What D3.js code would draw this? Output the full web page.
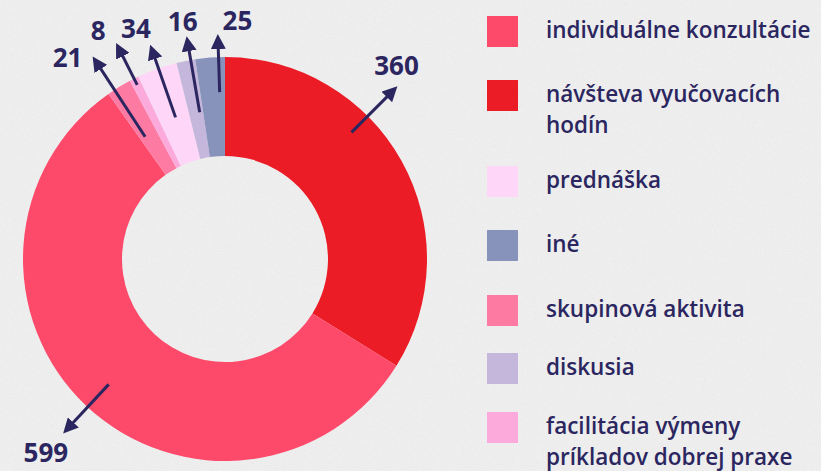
<!DOCTYPE html>
<html>
<head>
<meta charset="utf-8">
<script src="https://cdn.jsdelivr.net/npm/d3@7"></script>
<style>
  html, body { margin: 0; padding: 0; background: #ececec; }
  svg { display: block; }
</style>
</head>
<body>
<svg id="chart" width="821" height="471"></svg>
<script>
// ---- data (clockwise from 12 o'clock) ----
const sliceCategories = ["návšteva vyučovacích hodín", "individuálne konzultácie", "skupinová aktivita",
  "facilitácia výmeny príkladov dobrej praxe", "prednáška", "diskusia", "iné"];
const sliceValues = [360, 599, 21, 8, 34, 16, 25];
const sliceColors = ["#ec1c27", "#fd4a6b", "#fd7aa3", "#fcaadc", "#fdd6f8", "#c5b6dc", "#8893bc"];

// ---- legend order ----
const legendLabels = [
  ["individuálne konzultácie"],
  ["návšteva vyučovacích", "hodín"],
  ["prednáška"],
  ["iné"],
  ["skupinová aktivita"],
  ["diskusia"],
  ["facilitácia výmeny", "príkladov dobrej praxe"]
];
const legendCategories = ["individuálne konzultácie", "návšteva vyučovacích hodín", "prednáška", "iné",
  "skupinová aktivita", "diskusia", "facilitácia výmeny príkladov dobrej praxe"];

// ---- annotation layout (polar, relative to each slice's mid angle) ----
// dA: arrow angle offset (deg), r0: tail radius, r1: head radius, lr: label radius, la: label angle offset (deg)
const annot = [
  {dA: -16, r0: 179, r1: 238, lr: 259, la: -19.5},
  {dA: -0.5, r0: 171, r1: 232, lr: 263, la: -0.4},
  {dA: -1.5, r0: 146, r1: 236, lr: 256, la: -6.3},
  {dA: 0, r0: 195, r1: 236, lr: 262, la: -2.2},
  {dA: 0.4, r0: 150, r1: 221, lr: 248, la: -1.4},
  {dA: 1.4, r0: 149, r1: 220, lr: 242, la: 1.1},
  {dA: 2.4, r0: 167, r1: 219, lr: 239, la: 7.2}
];

const ink = "#2b265f";
const svg = d3.select("#chart");
const W = 821, H = 471;

// background with subtle concrete texture
const defs = svg.append("defs");
const f = defs.append("filter").attr("id", "noise").attr("x", 0).attr("y", 0).attr("width", "100%").attr("height", "100%");
f.append("feTurbulence").attr("type", "fractalNoise").attr("baseFrequency", 0.9).attr("numOctaves", 2).attr("seed", 3).attr("result", "t");
f.append("feColorMatrix").attr("type", "matrix")
  .attr("values", "0 0 0 0 0.55  0 0 0 0 0.55  0 0 0 0 0.55  0 0 0 -1.6 0.75");
svg.append("rect").attr("width", W).attr("height", H).attr("fill", "#eeeeee");
svg.append("rect").attr("width", W).attr("height", H).attr("filter", "url(#noise)").attr("opacity", 0.3);

defs.append("marker").attr("id", "arrowhead")
  .attr("viewBox", "0 0 10 10").attr("refX", 6).attr("refY", 5)
  .attr("markerWidth", 5).attr("markerHeight", 5).attr("orient", "auto")
  .append("path").attr("d", "M0,0 L10,5 L0,10 Z").attr("fill", ink);

const cx = 225, cy = 259, R = 202, r = 103;
const g = svg.append("g").attr("transform", `translate(${cx},${cy})`);

const pie = d3.pie().sort(null).value(d => d);
const arcs = pie(sliceValues);
const arc = d3.arc().innerRadius(r).outerRadius(R);

g.selectAll("path.slice").data(arcs).join("path")
  .attr("class", "slice")
  .attr("d", arc)
  .attr("fill", (d, i) => sliceColors[i]);

const rad = Math.PI / 180;
const polar = (a, rr) => [Math.sin(a) * rr, -Math.cos(a) * rr];

arcs.forEach((d, i) => {
  const a = annot[i];
  const mid = (d.startAngle + d.endAngle) / 2;
  const ang = mid + a.dA * rad;
  const p0 = polar(ang, a.r0), p1 = polar(ang, a.r1);
  g.append("line")
    .attr("x1", p0[0]).attr("y1", p0[1]).attr("x2", p1[0]).attr("y2", p1[1])
    .attr("stroke", ink).attr("stroke-width", 3)
    .attr("marker-end", "url(#arrowhead)");
  const lp = polar(mid + a.la * rad, a.lr);
  g.append("text")
    .attr("x", lp[0]).attr("y", lp[1])
    .attr("text-anchor", "middle").attr("dominant-baseline", "central")
    .attr("font-family", "'Open Sans', sans-serif").attr("font-weight", 700)
    .attr("font-size", 26).attr("fill", ink)
    .text(sliceValues[i]);
});

// legend
const legendY = [16, 80, 166, 230, 295, 353, 412];
const lg = svg.append("g");
legendCategories.forEach((cat, i) => {
  const idx = sliceCategories.indexOf(cat);
  const y = legendY[i];
  lg.append("rect").attr("x", 487).attr("y", y).attr("width", 31).attr("height", 31)
    .attr("fill", sliceColors[idx]);
  legendLabels[i].forEach((line, j) => {
    lg.append("text").attr("x", 546).attr("y", y + 22 + j * 31)
      .attr("font-family", "'Open Sans', sans-serif").attr("font-weight", 600)
      .attr("font-size", 22.5).attr("fill", ink)
      .text(line);
  });
});
</script>
</body>
</html>
